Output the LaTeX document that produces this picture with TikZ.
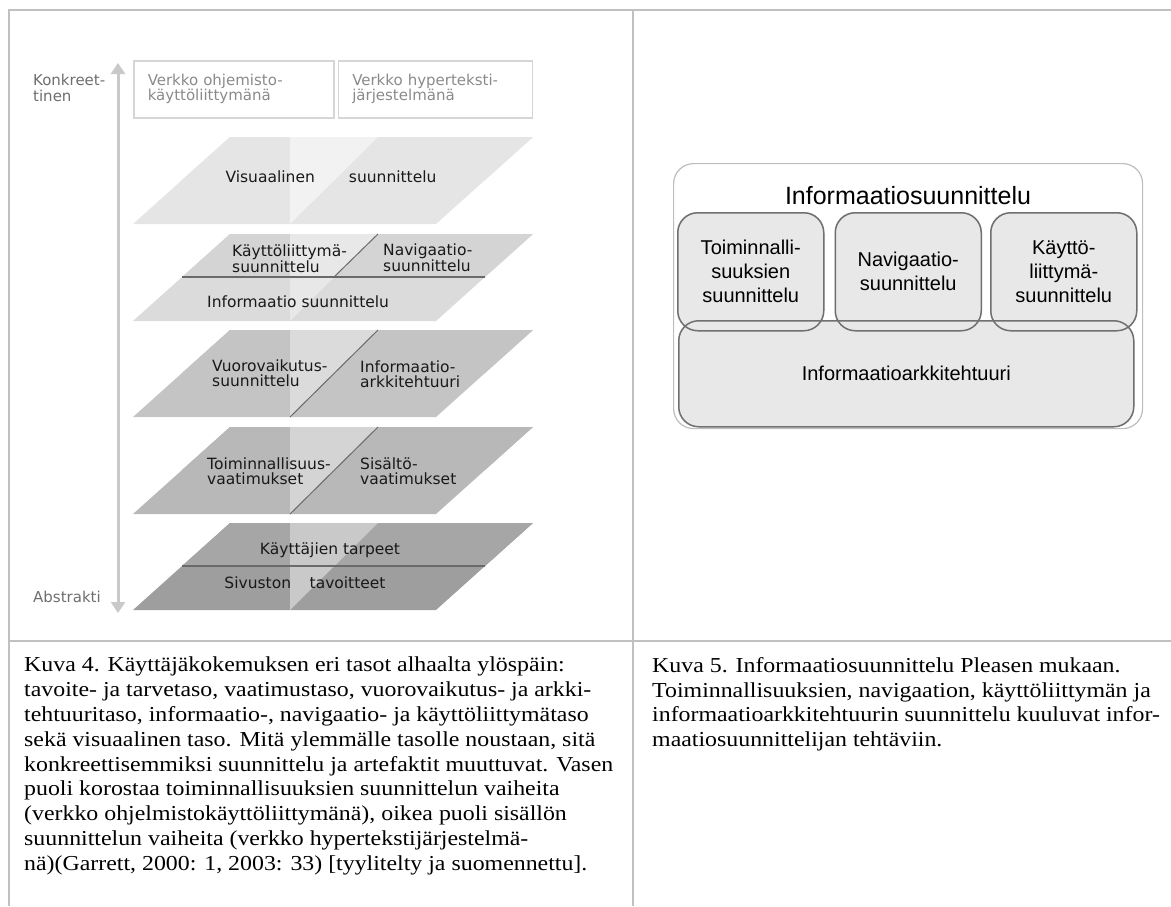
\documentclass[tikz,border=0pt]{standalone}
\usepackage{fontspec}
\setmainfont{Liberation Serif}
\newfontfamily\capfont[FakeStretch=1.12]{Liberation Serif}
\newfontfamily\layerfont{DejaVu Sans}
\newfontfamily\boxfont{Liberation Sans}
\usetikzlibrary{positioning, arrows.meta, backgrounds}

\definecolor{gridgray}{HTML}{C0C0C0}
\definecolor{axisgray}{HTML}{C9C9C9}
\definecolor{sidegray}{HTML}{6E6E6E}
\definecolor{webgray}{HTML}{8A8A8A}
\definecolor{webline}{HTML}{D6D6D6}
\definecolor{splitline}{HTML}{6A6A6A}
\definecolor{boxline}{HTML}{707070}
\definecolor{boxfill}{HTML}{E8E8E8}
\definecolor{outerline}{HTML}{BDBDBD}

% one plane of the stack: top y, base colour, upper half colour, light colour
\newcommand{\uxlayer}[4]{%
  \fill[#2] (133,#1+87) -- (230,#1) -- (533,#1) -- (436,#1+87) -- cycle;
  \fill[#3] (182,#1+43) -- (230,#1) -- (533,#1) -- (485,#1+43) -- cycle;
  \fill[#4] (290,#1+87) -- (290,#1) -- (378,#1) -- cycle;
}

\begin{document}
\begin{tikzpicture}[x=1pt, y=-1pt,
        grid/.style={draw=gridgray, line width=2pt},
        lbl/.style={font=\layerfont\fontsize{15.5}{14.5}\selectfont, text=black!90, inner sep=0pt, align=left},
        sidelbl/.style={font=\layerfont\fontsize{15}{16}\selectfont, text=sidegray, inner sep=0pt, align=left},
        webbox/.style={draw=webline, line width=1.5pt, font=\layerfont\fontsize{15}{15}\selectfont, text=webgray, align=left, inner xsep=14pt, inner ysep=0pt, minimum height=57pt},
        axisarrow/.style={{Triangle[width=14pt,length=11pt]}-{Triangle[width=14pt,length=11pt]}, draw=axisgray, line width=3pt},
        divider/.style={draw=splitline, line width=1.6pt},
        diag/.style={draw=splitline, line width=1pt},
        subbox/.style={draw=boxline, line width=1.5pt, rounded corners=20pt, minimum width=146pt, minimum height=118pt, align=center, font=\boxfont\fontsize{20}{24}\selectfont},
        caption/.style={font=\capfont\fontsize{21.3}{24.8}\selectfont, align=left, inner sep=0pt, anchor=north west}
    ]
        \useasboundingbox (0,0) rectangle (1171,906);

        % Table lines
        \draw[grid] (8,10) -- (1171,10);
        \draw[grid] (9,10) -- (9,906);
        \draw[grid] (633,10) -- (633,906);
        \draw[grid] (9,641) -- (1171,641);

        % Planes
        \uxlayer{137}{black!10}{black!10}{black!5}
        \uxlayer{234}{black!14}{black!17}{black!9}
        \uxlayer{330}{black!23}{black!23}{black!14}
        \uxlayer{427}{black!28}{black!28}{black!17}
        \uxlayer{523}{black!38}{black!35}{black!21}
        \draw[divider] (182,277) -- (485,277);
        \draw[divider] (182,566) -- (485,566);
        \draw[diag] (334,277) -- (378,234);
        \draw[diag] (290,417) -- (378,330);
        \draw[diag] (290,514) -- (378,427);

        % Nodes
        \node[webbox, anchor=north west, text width=172pt] (webapp) at (133,60) {Verkko ohjemisto-\\käyttöliittymänä};
        \node[webbox, right=3pt of webapp, text width=166pt] (webhyper) {Verkko hyperteksti-\\järjestelmänä};
        \node[sidelbl, anchor=north west] (concrete) at (33,74) {Konkreet-\\tinen};
        \node[sidelbl, anchor=west] (abstract) at (33,597) {Abstrakti};

        \node[lbl] (visual) at (331,177) {Visuaalinen\hspace{2.2em}suunnittelu};
        \node[lbl, anchor=west] (uidesign) at (232,259) {Käyttöliittymä-\\suunnittelu};
        \node[lbl, anchor=west] (navdesign) at (383,258) {Navigaatio-\\suunnittelu};
        \node[lbl, anchor=west] (infolayer) at (207,302) {Informaatio suunnittelu};
        \node[lbl, anchor=west] (interaction) at (212,373) {Vuorovaikutus-\\suunnittelu};
        \node[lbl, anchor=west] (infoarch) at (360,374) {Informaatio-\\arkkitehtuuri};
        \node[lbl, anchor=west] (funreq) at (207,471) {Toiminnallisuus-\\vaatimukset};
        \node[lbl, anchor=west] (contreq) at (360,471) {Sisältö-\\vaatimukset};
        \node[lbl] (userneeds) at (330,550) {Käyttäjien tarpeet};
        \node[lbl] (sitegoals) at (305,583) {Sivuston\hspace{1.2em}tavoitteet};

        % Arrows
        \coordinate (top) at (118,63);
        \coordinate (bottom) at (118,613);
        \draw[axisarrow] (top) -- (bottom);

        % Information design after Please
        \node[draw=outerline, line width=1.2pt, rounded corners=20pt, minimum width=469pt, minimum height=265pt, anchor=north west] (please) at (673,163) {};
        \node[font=\boxfont\fontsize{25}{25}\selectfont, inner sep=0pt] (pltitle) at (908,196) {Informaatiosuunnittelu};
        \node[subbox, anchor=north west] (plfun) at (677,212) {Toiminnalli-\\suuksien\\suunnittelu};
        \node[subbox, right=10pt of plfun] (plnav) {Navigaatio-\\suunnittelu};
        \node[subbox, right=8pt of plnav] (plui) {Käyttö-\\liittymä-\\suunnittelu};
        \node[subbox, anchor=north west, minimum width=455pt, minimum height=106pt] (plarch) at (678,320) {Informaatioarkkitehtuuri};
        \begin{scope}[on background layer]
            \foreach \b in {plfun, plnav, plui, plarch}
                \fill[boxfill, rounded corners=20pt] (\b.south west) rectangle (\b.north east);
        \end{scope}

        % Captions
        \node[caption] (cap4) at (24,657) {Kuva 4. Käyttäjäkokemuksen eri tasot alhaalta ylöspäin:\\
            tavoite- ja tarvetaso, vaatimustaso, vuorovaikutus- ja arkki-\\
            tehtuuritaso, informaatio-, navigaatio- ja käyttöliittymätaso\\
            sekä visuaalinen taso. Mitä ylemmälle tasolle noustaan, sitä\\
            konkreettisemmiksi suunnittelu ja artefaktit muuttuvat. Vasen\\
            puoli korostaa toiminnallisuuksien suunnittelun vaiheita\\
            (verkko ohjelmistokäyttöliittymänä), oikea puoli sisällön\\
            suunnittelun vaiheita (verkko hypertekstijärjestelmä-\\
            nä)(Garrett, 2000: 1, 2003: 33) [tyylitelty ja suomennettu].};
        \node[caption] (cap5) at (652,657) {Kuva 5. Informaatiosuunnittelu Pleasen mukaan.\\
            Toiminnallisuuksien, navigaation, käyttöliittymän ja\\
            informaatioarkkitehtuurin suunnittelu kuuluvat infor-\\
            maatiosuunnittelijan tehtäviin.};
    \end{tikzpicture}
\end{document}
